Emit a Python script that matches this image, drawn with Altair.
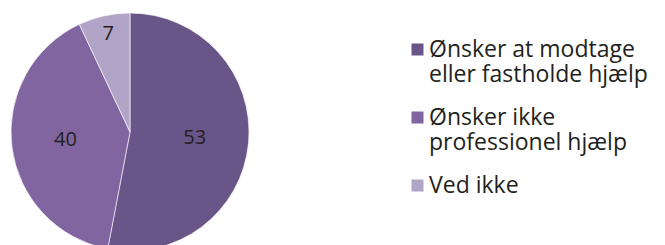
import altair as alt
import pandas as pd

categories = [
    "Ønsker at modtage\neller fastholde hjælp",
    "Ønsker ikke\nprofessionel hjælp",
    "Ved ikke",
]
values = [53, 40, 7]
colors = ["#6a5589", "#8065a0", "#b0a5c6"]

df = pd.DataFrame({"cat": categories, "value": values, "idx": list(range(len(values)))})

FONT = "Open Sans"
TXT = "#231f20"

pie = alt.Chart(df).mark_arc(radius=119, stroke="white", strokeWidth=0.6).encode(
    theta=alt.Theta("value:Q", stack=True),
    order=alt.Order("idx:Q"),
    x=alt.value(122),
    y=alt.value(124),
    color=alt.Color(
        "cat:N",
        scale=alt.Scale(domain=categories, range=colors),
        sort=categories,
        legend=alt.Legend(
            title=None,
            orient="none",
            legendX=398,
            legendY=30,
            symbolType="square",
            symbolSize=144,
            symbolStrokeWidth=0,
            symbolOpacity=1,
            labelFont=FONT,
            labelFontSize=23,
            labelColor=TXT,
            labelOffset=0,
            labelLimit=400,
            rowPadding=19,
            labelExpr="split(datum.label, '\\n')",
        ),
    ),
)

labels = (
    alt.Chart(df)
    .transform_window(cum="sum(value)", sort=[alt.SortField("idx")])
    .transform_joinaggregate(total="sum(value)")
    .transform_calculate(
        ang="2 * PI * (datum.cum - datum.value / 2) / datum.total",
        lr="datum.value < 10 ? 100 : 65",
    )
    .mark_text(font=FONT, fontSize=20, color=TXT)
    .encode(
        theta=alt.Theta("ang:Q", scale=None),
        radius=alt.Radius("lr:Q", scale=None),
        x=alt.value(122),
        y=alt.value(124),
        text=alt.Text("value:Q"),
    )
)

chart = (pie + labels).properties(
    width=649,
    height=240,
    autosize=alt.AutoSizeParams(type="none"),
    padding=0,
).configure_view(stroke=None)

chart.save("out.html", embed_options={"renderer": "svg", "actions": False})
